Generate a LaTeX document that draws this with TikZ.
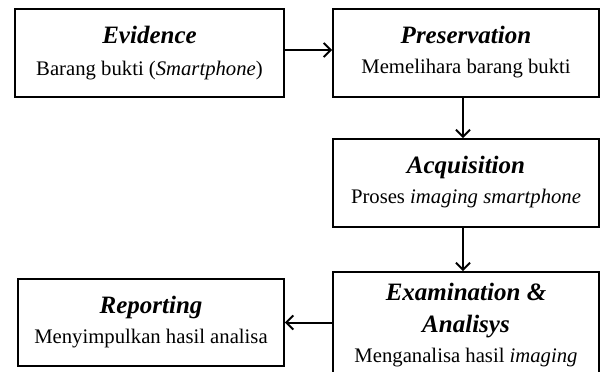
\documentclass[tikz,border=0pt]{standalone}
\usepackage{fontspec}
\setmainfont{Liberation Serif}
\usetikzlibrary{arrows.meta}
\tikzset{
  box/.style={draw, line width=1.8pt, rectangle, inner sep=0pt, fill=white},
  ttl/.style={anchor=base, inner sep=0pt, font=\fontsize{25}{30}\selectfont\bfseries\itshape},
  bdy/.style={anchor=base, inner sep=0pt, font=\fontsize{20.7}{25}\selectfont},
  arr/.style={line width=2pt, -{Straight Barb[length=7pt,width=14pt,line width=2pt]}}
}
\begin{document}
\begin{tikzpicture}[x=1pt,y=-1pt]
\useasboundingbox (0,0) rectangle (600,372);
\clip (0,0) rectangle (600,372);
% boxes
\node[box, minimum width=269pt, minimum height=88pt] (ev) at (149.5,53) {};
\node[box, minimum width=266pt, minimum height=88pt] (pr) at (466,53) {};
\node[box, minimum width=266pt, minimum height=88pt] (aq) at (466,183) {};
\node[box, minimum width=266pt, minimum height=148pt] (ex) at (466,346) {};
\node[box, minimum width=266pt, minimum height=87pt] (rp) at (151,322.5) {};
% texts
\node[ttl] (evt) at (149.5,43) {Evidence};
\node[bdy] (evb) at (149.5,75) {Barang bukti (\textit{Smartphone})};
\node[ttl] (prt) at (466,43) {Preservation};
\node[bdy] (prb) at (466,73) {Memelihara barang bukti};
\node[ttl] (aqt) at (466,173) {Acquisition};
\node[bdy] (aqb) at (466,203) {Proses \textit{imaging smartphone}};
\node[ttl] (ext1) at (466,300) {Examination \&};
\node[ttl] (ext2) at (466,332) {Analisys};
\node[bdy] (exb) at (466,362) {Menganalisa hasil \textit{imaging}};
\node[ttl] (rpt) at (151,313) {Reporting};
\node[bdy] (rpb) at (151,343) {Menyimpulkan hasil analisa};
% connectors
\draw[arr] ([yshift=3pt]ev.east) -- ([yshift=3pt]pr.west);
\draw[arr] ([xshift=-3pt]pr.south) -- ([xshift=-3pt]aq.north);
\draw[arr] ([xshift=-3pt]aq.south) -- ([xshift=-3pt]ex.north);
\draw[arr] (ex.west |- rp.east) -- (rp.east);
\end{tikzpicture}
\end{document}
